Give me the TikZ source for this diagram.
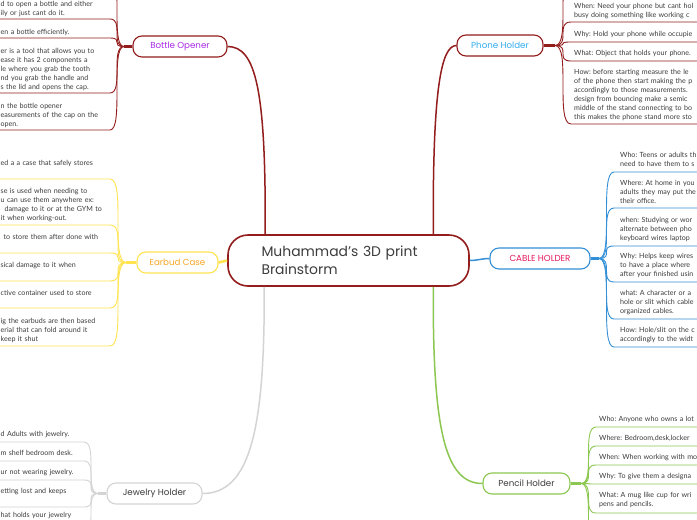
\documentclass[tikz,border=0pt]{standalone}
\usepackage{fontspec}
\setmainfont{Lato}
\newfontfamily\titlefont{Poppins}
\usetikzlibrary{positioning,calc}
\definecolor{mapred}{HTML}{931C1C}
\definecolor{mapyellow}{HTML}{FFE34F}
\definecolor{mapblue}{HTML}{3490D6}
\definecolor{mapgreen}{HTML}{8CC751}
\definecolor{mapgray}{HTML}{D4D4D4}
\definecolor{txtgray}{HTML}{3C3C3C}
\definecolor{bottlepurple}{HTML}{A92BE6}
\definecolor{phoneblue}{HTML}{33ADEF}
\definecolor{earbudorange}{HTML}{F6A623}
\definecolor{cablepink}{HTML}{E4195C}
\frenchspacing
\tikzset{
  hubtopic/.style={draw=mapred, line width=1.6pt, rounded corners=20pt, fill=white,
    minimum width=241pt, minimum height=51pt, text width=174pt, align=left,
    text=txtgray, font=\titlefont\fontsize{13.9}{18}\selectfont},
  branch/.style={draw=#1, line width=1.1pt, rounded corners=9pt, fill=white,
    minimum height=21pt, inner sep=0pt, font=\titlefont\fontsize{8.7}{10}\selectfont},
  leaf/.style={anchor=base west, inner sep=0pt, text width=140pt, align=left,
    text=txtgray, font=\fontsize{7.1}{9}\selectfont},
  twig/.style={draw=#1, line width=0.9pt},
  limb/.style={draw=#1, line width=1.5pt},
  stub/.style={draw=#1, line width=2.6pt},
}
\begin{document}
\begin{tikzpicture}[x=1pt,y=-1pt]
\useasboundingbox (0,0) rectangle (697,520);
\clip (0,0) rectangle (697,520);
\fill[white] (0,0) rectangle (697,520);

% centre and main topics
\node[hubtopic] (hub) at (348.5,260.5) {Muhammad’s 3D print\\Brainstorm};
\node[branch=mapred, minimum width=94pt, text=bottlepurple] (bottle) at (180,46.5) {Bottle Opener};
\node[branch=mapred, minimum width=86pt, text=phoneblue] (phone) at (500,45.5) {Phone Holder};
\node[branch=mapyellow, minimum width=81pt, text=earbudorange] (earbud) at (177.5,262.5) {Earbud Case};
\node[branch=mapblue, minimum width=100pt, text=cablepink] (cable) at (540,258.5) {CABLE HOLDER};
\node[branch=mapgray, minimum width=95pt, text=txtgray] (jewelry) at (154.5,493.5) {Jewelry Holder};
\node[branch=mapgreen, minimum width=87pt, text=txtgray] (pencil) at (526.5,483.5) {Pencil Holder};

\draw[limb=mapred] (bottle.east) .. controls (256,46.5) and (266,90) .. ([xshift=38pt]hub.north west);
\draw[limb=mapred] ([xshift=-36.5pt]hub.north east) .. controls (432.5,90) and (441,45.5) .. (phone.west);
\draw[stub=mapyellow] (earbud.east) -- (hub.west);
\draw[limb=mapblue] (hub.east) to[out=0,in=180] (cable.west);
\draw[limb=mapgray] ([xshift=37pt]hub.south west) .. controls (265,430) and (250,493.5) .. (jewelry.east);
\draw[limb=mapgreen] ([xshift=-36.5pt]hub.south east) .. controls (432.5,430) and (445,483.5) .. (pencil.west);

% junctions
\coordinate (bj) at (124,46.5);
\coordinate (pj) at (555,45.5);
\coordinate (ej) at (126,262.5);
\coordinate (cj) at (599,258.5);
\coordinate (jj) at (98,493.5);
\coordinate (nj) at (581,483.5);
\draw[stub=mapred] (bottle.west) -- (bj);
\draw[stub=mapred] (phone.east) -- (pj);
\draw[stub=mapyellow] (earbud.west) -- (ej);
\draw[stub=mapblue] (cable.east) -- (cj);
\draw[stub=mapgray] (jewelry.west) -- (jj);
\draw[stub=mapgreen] (pencil.east) -- (nj);

% Bottle Opener
\draw[twig=mapred] (-5,-25) -- (110,-25) .. controls (124,-25) and (110,46.5) .. (bj);
\foreach \yb/\yt/\txt [count=\i] in {
  19/4/{d to open a bottle and either\\ily or just cant do it.},
  38/32/{en a bottle efficiently.},
  93/51/{er is a tool that allows you to\\ease it has 2 components a\\le where you grab the tooth\\nd you grab the handle and\\s the lid and opens the cap.},
  130/106/{n the bottle opener\\easurements of the cap on the\\open.}} {
  \node[leaf] (bo\i) at (0.5,\yt+2) {\txt};
  \coordinate (boc\i) at (110,\yb);
  \draw[twig=mapred] (-5,\yb) -- (boc\i) .. controls (124,\yb) and (110,46.5) .. (bj);
}

% Earbud Case
\foreach \yb/\yt/\txt [count=\i] in {
  179/163/{ed a a case that safely stores},
  225/191/{se is used when needing to\\u can use them anywhere ex:\\\hspace*{4pt}damage to it or at the GYM to\\it when working-out.},
  253/237/{\hspace*{3pt}to store them after done with},
  281/265/{sical damage to it when},
  308/293/{ctive container used to store},
  346/321/{ig the earbuds are then based\\erial that can fold around it\\keep it shut}} {
  \node[leaf] (eb\i) at (0.5,\yt+2) {\txt};
  \coordinate (ebc\i) at (110,\yb);
  \draw[twig=mapyellow] (-5,\yb) -- (ebc\i) .. controls (126,\yb) and (110,262.5) .. (ej);
}

% Jewelry Holder
\foreach \yb/\yt/\txt [count=\i] in {
  442/434/{d Adults with jewelry.},
  461/453/{m shelf bedroom desk.},
  480/472/{ur not wearing jewelry.},
  507/491/{etting lost and keeps},
  532/515/{hat holds your jewelry}} {
  \node[leaf] (jw\i) at (0.5,\yt+2) {\txt};
  \coordinate (jwc\i) at (84,\yb);
  \draw[twig=mapgray] (-5,\yb) -- (jwc\i) .. controls (98,\yb) and (84,493.5) .. (jj);
}

% Phone Holder
\draw[twig=mapred] (pj) .. controls (571,45.5) and (555,-25) .. (571,-25) -- (700,-25);
\foreach \yb/\yt/\txt [count=\i] in {
  22/6/{When: Need your phone but cant hol\\busy doing something like working c},
  42/34/{Why: Hold your phone while occupie},
  61/53/{What: Object that holds your phone.},
  124/72/{How: before starting measure the le\\of the phone then start making the p\\accordingly to those measurements.\\design from bouncing make a semic\\middle of the stand connecting to bo\\this makes the phone stand more sto}} {
  \node[leaf] (ph\i) at (574,\yt+2) {\txt};
  \coordinate (phc\i) at (571,\yb);
  \draw[twig=mapred] (pj) .. controls (571,45.5) and (555,\yb) .. (phc\i) -- (700,\yb);
}

% CABLE HOLDER
\foreach \yb/\yt/\txt [count=\i] in {
  172/155/{Who: Teens or adults th\\need to have them to s},
  208/183/{Where: At home in you\\adults they may put the\\their office.},
  246/220/{when: Studying or wor\\alternate between pho\\keyboard wires laptop},
  282/256/{Why: Helps keep wires\\to have a place where\\after your finished usin},
  319/293/{what: A character or a\\hole or slit which cable\\organized cables.},
  347/330/{How: Hole/slit on the c\\accordingly to the widt}} {
  \node[leaf] (cb\i) at (620,\yt+2) {\txt};
  \coordinate (cbc\i) at (614,\yb);
  \draw[twig=mapblue] (cj) .. controls (614,258.5) and (599,\yb) .. (cbc\i) -- (700,\yb);
}

% Pencil Holder
\draw[twig=mapgreen] (nj) .. controls (596,483.5) and (581,560) .. (596,560) -- (700,560);
\foreach \yb/\yt/\txt [count=\i] in {
  427/419/{Who: Anyone who owns a lot},
  446/438/{Where: Bedroom,desk,locker},
  465/457/{When: When working with mo},
  484/476/{Why: To give them a designa},
  513/495/{What: A mug like cup for wri\\pens and pencils.}} {
  \node[leaf] (pn\i) at (599,\yt+2) {\txt};
  \coordinate (pnc\i) at (596,\yb);
  \draw[twig=mapgreen] (nj) .. controls (596,483.5) and (581,\yb) .. (pnc\i) -- (700,\yb);
}
\end{tikzpicture}
\end{document}
